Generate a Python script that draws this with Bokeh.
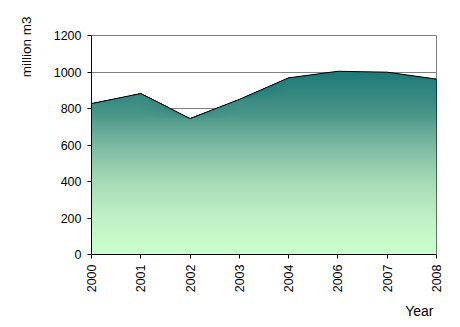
import numpy as np
from bokeh.plotting import figure
from bokeh.models import Range1d, FixedTicker, Title
from bokeh.embed import file_html
from bokeh.resources import INLINE

years = ["2000", "2001", "2002", "2003", "2004", "2006", "2007", "2008"]
volumes = [827, 882, 745, 850, 968, 1004, 999, 961]
y_ticks = [0, 200, 400, 600, 800, 1000, 1200]

FONT = "Liberation Sans"

xs = np.arange(len(years))
vals = np.array(volumes, dtype=float)

p = figure(
    output_backend="svg", toolbar_location=None,
    width=460, height=327,
    frame_width=345, frame_height=219,
    min_border_left=90, min_border_right=25,
    min_border_top=35, min_border_bottom=73,
    x_range=Range1d(0, len(years) - 1), y_range=Range1d(0, 1200),
)
p.background_fill_color = "white"
p.border_fill_color = "white"
p.outline_line_color = "#808080"
p.outline_line_width = 1

# gradient colour stops (value -> rgb)
stop_v = [0, 215, 405, 600, 770, 970, 1010]
stop_r = [204, 191, 165, 123, 74, 36, 30]
stop_g = [255, 239, 217, 185, 149, 125, 120]
stop_b = [204, 196, 181, 160, 136, 122, 118]

step = 4.0
top = vals.max()
his = np.arange(step, top + step, step)[::-1]
for hi in his:
    mid = hi - step / 2
    r = int(round(np.interp(mid, stop_v, stop_r)))
    g = int(round(np.interp(mid, stop_v, stop_g)))
    b = int(round(np.interp(mid, stop_v, stop_b)))
    p.varea(x=xs, y1=np.zeros_like(vals), y2=np.minimum(hi, vals),
            fill_color=(r, g, b), fill_alpha=1.0)

p.line(xs, vals, line_color="black", line_width=1)
p.segment(x0=[xs[-1]], y0=[0], x1=[xs[-1]], y1=[vals[-1]], line_color="black", line_width=1)

# axes
p.xaxis.ticker = FixedTicker(ticks=list(xs))
p.xaxis.major_label_overrides = {int(i): y for i, y in zip(xs, years)}
p.xaxis.major_label_orientation = np.pi / 2
p.yaxis.ticker = FixedTicker(ticks=y_ticks)

for ax in (p.xaxis[0], p.yaxis[0]):
    ax.axis_line_color = "black"
    ax.axis_line_width = 1
    ax.major_tick_line_color = "black"
    ax.major_tick_out = 4
    ax.major_tick_in = 0
    ax.minor_tick_line_color = None
    ax.major_label_text_font = FONT
    ax.major_label_text_font_size = "12.5px"
    ax.major_label_text_color = "black"
    ax.major_label_standoff = 6

p.xgrid.grid_line_color = None
p.ygrid.grid_line_color = "#808080"
p.ygrid.grid_line_width = 1

p.add_layout(Title(text="million m3", align="right", offset=-19, standoff=33,
                   text_font=FONT, text_font_size="13.5px", text_font_style="normal",
                   text_color="black"), "left")
p.add_layout(Title(text="Year", align="right", offset=3, standoff=10,
                   text_font=FONT, text_font_size="14px", text_font_style="normal",
                   text_color="black"), "below")

open("out.html", "w").write(file_html(p, INLINE))
